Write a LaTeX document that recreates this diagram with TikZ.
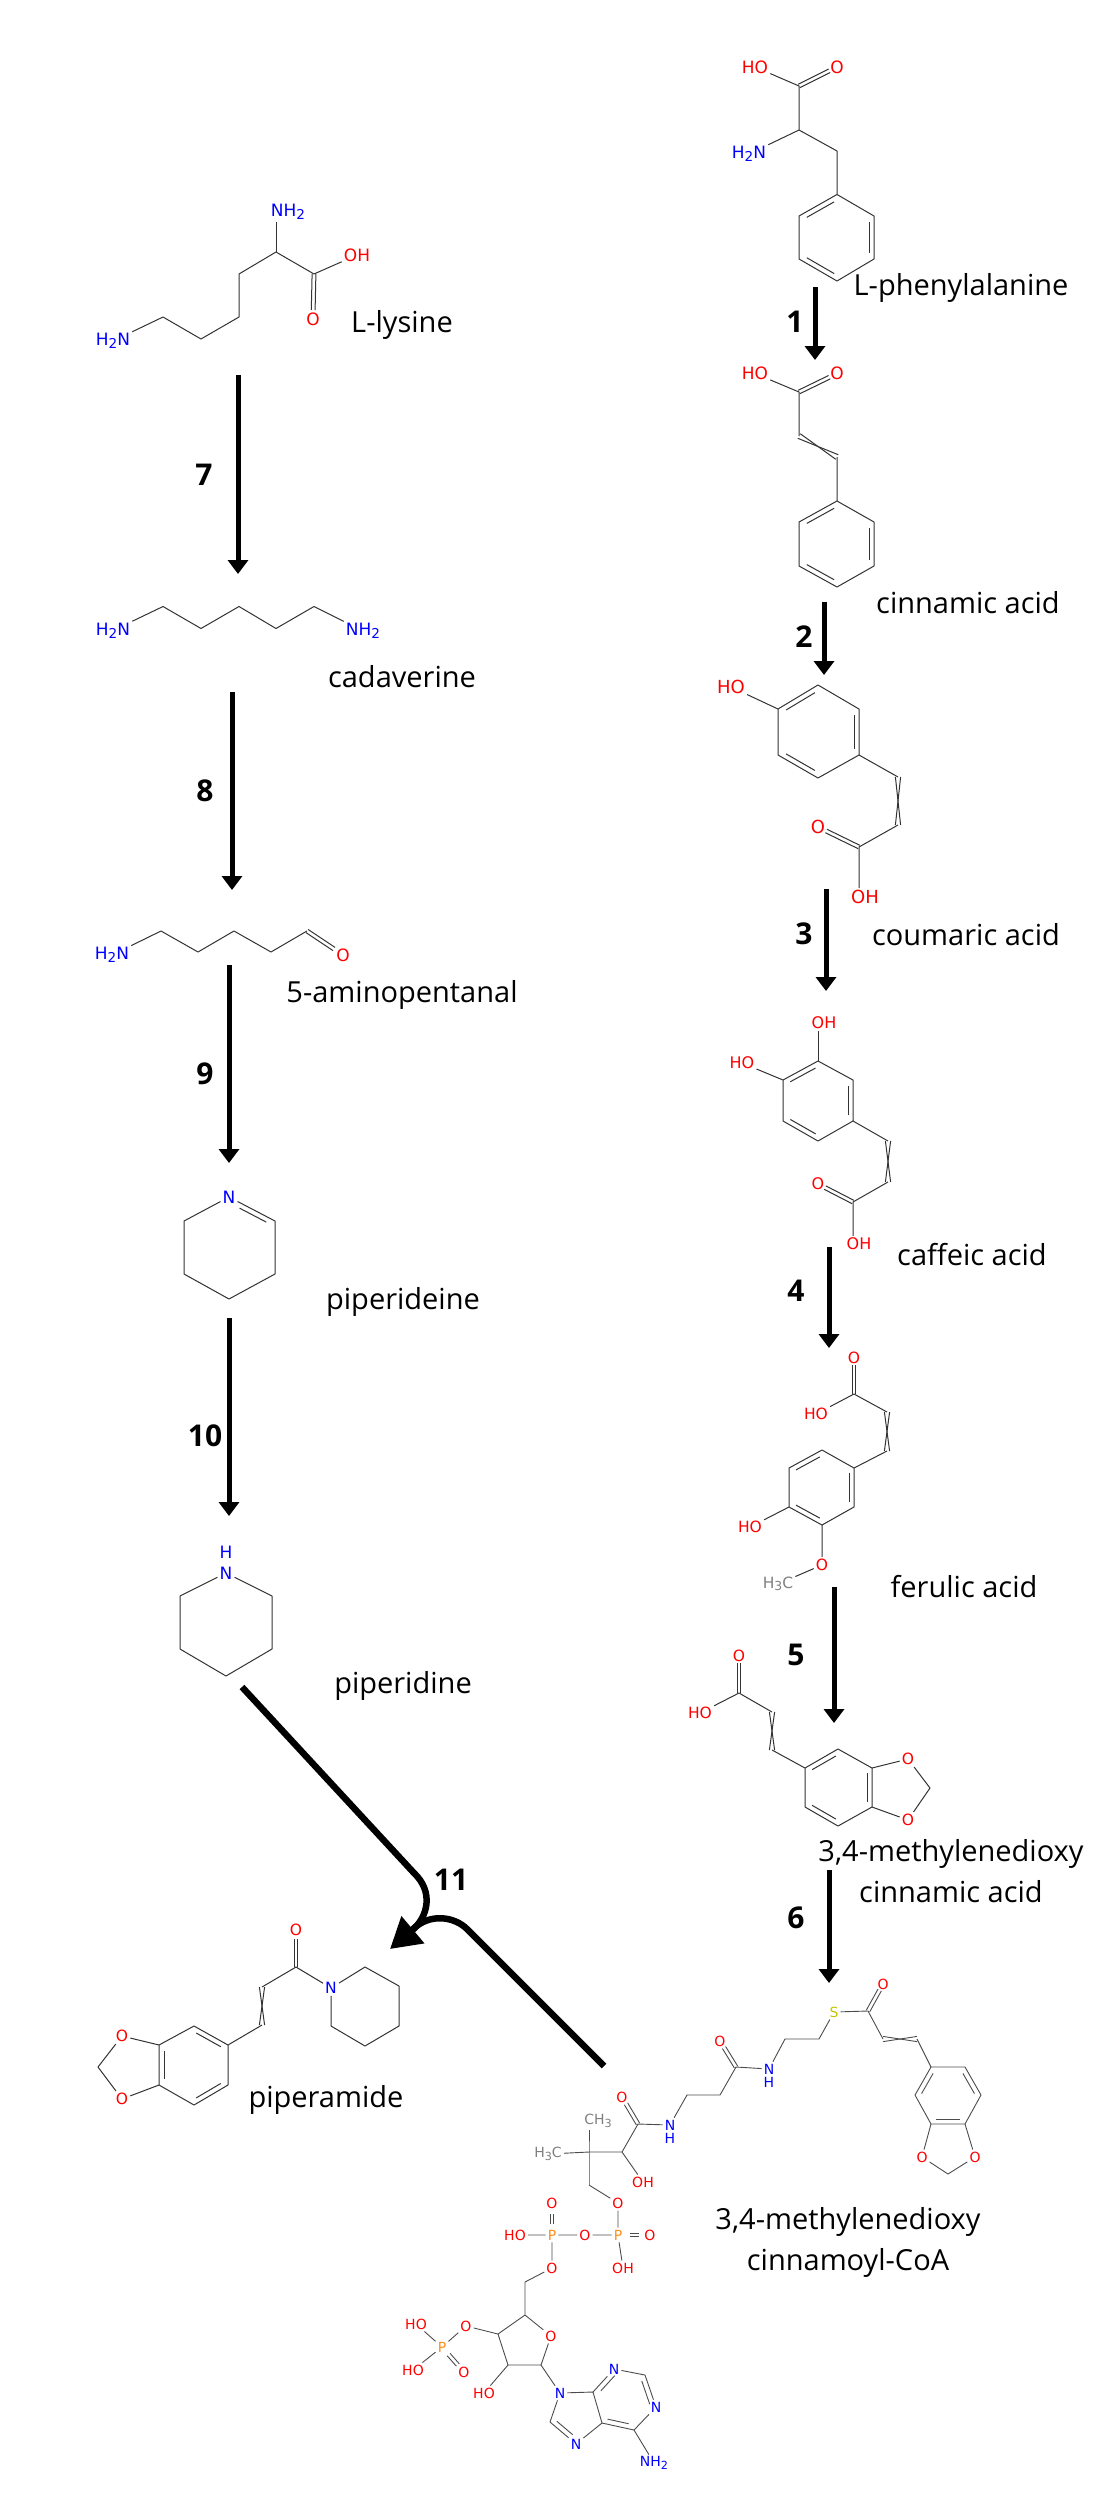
\documentclass[tikz,border=0pt]{standalone}
\usepackage{fontspec}
\setmainfont{Open Sans}
\newfontfamily\atomfont{DejaVu Sans}
\usetikzlibrary{arrows.meta, calc}
\definecolor{oxred}{HTML}{FF0000}
\definecolor{niblue}{HTML}{0000FF}
\definecolor{phorange}{HTML}{FF8C1A}
\definecolor{suyellow}{HTML}{C4C400}
\definecolor{megray}{HTML}{7F7F7F}
\def\atomsz{16}
\tikzset{%
	bond/.style={line width=1pt, draw=black!80, line join=round},
	atom/.style={inner sep=2pt, font=\atomfont\fontsize{\atomsz}{\atomsz}\selectfont},
	oxy/.style={atom, text=oxred},
	nit/.style={atom, text=niblue},
	pho/.style={atom, text=phorange},
	sul/.style={atom, text=suyellow},
	met/.style={atom, text=megray},
	mol/.style={inner sep=0pt, align=center, font=\fontsize{29}{41}\selectfont},
	num/.style={inner sep=0pt, font=\bfseries\fontsize{30}{30}\selectfont},
	rxn/.style={line width=5pt, -{Triangle[length=14pt,width=20pt]}},
	rxnbig/.style={line width=6.5pt}
}
\newcommand{\atomsub}[1]{\raisebox{-.3ex}{\scalebox{.8}{#1}}}
% inner line of a ring bond, on the left of a->b
\newcommand{\inbond}[3][.86]{\draw[bond] ($(#2.center)!.14!(#3.center)!5pt!90:(#3.center)$) -- ($(#2.center)!#1!(#3.center)!5pt!-90:(#2.center)$);}
% two lines round a->b, between two fractions
\newcommand{\dblbond}[4]{%
	\draw[bond] ($(#1.center)!#3!(#2.center)!1.9pt!90:(#2.center)$) -- ($(#1.center)!#4!(#2.center)!1.9pt!-90:(#1.center)$);
	\draw[bond] ($(#1.center)!#3!(#2.center)!1.9pt!-90:(#2.center)$) -- ($(#1.center)!#4!(#2.center)!1.9pt!90:(#1.center)$);}
% crossed double bond
\newcommand{\crsbond}[2]{%
	\draw[bond] ($(#1)!2.6pt!90:(#2)$) -- ($(#2)!2.6pt!90:(#1)$);
	\draw[bond] ($(#1)!2.6pt!-90:(#2)$) -- ($(#2)!2.6pt!-90:(#1)$);}
\newcommand{\setcoords}[1]{\foreach \n/\x/\y in {#1} {\coordinate (\n) at (\x,\y);}}
\begin{document}
\begin{tikzpicture}[x=1pt, y=-1pt]
	\useasboundingbox (0,0) rectangle (1100,2500);

	% L-phenylalanine
	\def\atomsz{17}
	\setcoords{phea/799/86, pheb/799/130, phec/837/151, ph1/837/194.5, ph2/874/216, ph3/874/259, ph4/837/281, ph5/799/259, ph6/799/216}
	\node[oxy] (pheho) at (755,67) {HO};
	\node[oxy] (pheo) at (837,67) {O};
	\node[nit] (phen) at (749,154) {H\atomsub{2}N};
	\draw[bond] (pheho) -- (phea) -- (pheb) -- (phec) -- (ph1) -- (ph2) -- (ph3) -- (ph4) -- (ph5) -- (ph6) -- (ph1);
	\draw[bond] (pheb) -- (phen);
	\dblbond{phea}{pheo}{0}{.8}
	\inbond{ph1}{ph6} \inbond{ph3}{ph2} \inbond{ph5}{ph4}
	\node[mol] (phename) at (961,288) {L-phenylalanine};

	% cinnamic acid
	\setcoords{cina/799/392, cinb/799/436, cinc/837/457, ci1/837/501, ci2/874/522, ci3/874/566, ci4/837/587, ci5/799/566, ci6/799/522}
	\node[oxy] (cinho) at (755,373.5) {HO};
	\node[oxy] (cino) at (837,373.5) {O};
	\draw[bond] (cinho) -- (cina) -- (cinb);
	\draw[bond] (cinc) -- (ci1) -- (ci2) -- (ci3) -- (ci4) -- (ci5) -- (ci6) -- (ci1);
	\dblbond{cina}{cino}{0}{.8}
	\crsbond{cinb}{cinc}
	\inbond{ci1}{ci6} \inbond{ci3}{ci2} \inbond{ci5}{ci4}
	\node[mol] (cinname) at (968,603) {cinnamic acid};

	% coumaric acid
	\def\atomsz{18}
	\setcoords{co1/818/685, co2/859/709, co3/859/755, co4/818/778, co5/778/755, co6/778/709, coua/898/777, coub/898/825, couc/859/847}
	\node[oxy] (couho) at (731,687) {HO};
	\node[oxy] (couo) at (818,827) {O};
	\node[oxy] (couoh) at (865,897) {OH};
	\draw[bond] (couho) -- (co6) -- (co1) -- (co2) -- (co3) -- (co4) -- (co5) -- (co6);
	\draw[bond] (co3) -- (coua);
	\draw[bond] (coub) -- (couc) -- (couc |- couoh.north);
	\crsbond{coua}{coub}
	\dblbond{couc}{couo}{0}{.8}
	\inbond{co1}{co6} \inbond{co3}{co2} \inbond{co5}{co4}
	\node[mol] (couname) at (966,935) {coumaric acid};

	% caffeic acid
	\def\atomsz{16}
	\setcoords{ca1/818/1061, ca2/853/1080, ca3/853/1121, ca4/818/1141, ca5/783/1121, ca6/783/1080, cafa/888/1141, cafb/888/1182, cafc/853/1202}
	\node[oxy] (cafoh) at (824,1022.5) {OH};
	\node[oxy] (cafho) at (742,1063) {HO};
	\node[oxy] (cafo) at (818,1184) {O};
	\node[oxy] (cafac) at (859,1244) {OH};
	\draw[bond] (cafho) -- (ca6) -- (ca1) -- (ca2) -- (ca3) -- (ca4) -- (ca5) -- (ca6);
	\draw[bond] (ca1) -- (ca1 |- cafoh.south);
	\draw[bond] (ca3) -- (cafa);
	\draw[bond] (cafb) -- (cafc) -- (cafc |- cafac.north);
	\crsbond{cafa}{cafb}
	\dblbond{cafc}{cafo}{0}{.8}
	\inbond{ca1}{ca6} \inbond{ca3}{ca2} \inbond{ca5}{ca4}
	\node[mol] (cafname) at (972,1255) {caffeic acid};

	% ferulic acid
	\def\atomsz{15.5}
	\setcoords{fera/854/1394, ferb/887/1412, ferc/887/1451, fe1/822/1450, fe2/854/1468, fe3/854/1507, fe4/822/1525, fe5/789/1507, fe6/789/1468}
	\node[oxy] (fero) at (854,1358) {O};
	\node[oxy] (ferac) at (816,1414) {HO};
	\node[oxy] (ferho) at (750,1527) {HO};
	\node[oxy] (ferme) at (822,1565) {O};
	\node[met] (ferch) at (778,1584) {H\atomsub{3}C};
	\draw[bond] (ferac) -- (fera) -- (ferb);
	\draw[bond] (ferc) -- (fe2) -- (fe3) -- (fe4) -- (fe5) -- (fe6) -- (fe1) -- (fe2);
	\draw[bond] (ferho) -- (fe5);
	\draw[bond] (fe4) -- (ferme) -- (ferch);
	\dblbond{fera}{fero}{0}{.8}
	\crsbond{ferb}{ferc}
	\inbond{fe1}{fe6} \inbond{fe3}{fe2} \inbond{fe5}{fe4}
	\node[mol] (fername) at (964,1587) {ferulic acid};

	% 3,4-methylenedioxy cinnamic acid
	\setcoords{mdaa/739/1693, mdab/772/1712, mdac/772/1750, md1/838/1749, md2/872/1768, md3/872/1807, md4/838/1826, md5/805/1807, md6/805/1768, mdch/930/1788}
	\node[oxy] (mdao) at (739,1656) {O};
	\node[oxy] (mdaho) at (700,1713) {HO};
	\node[oxy] (mdaou) at (908,1759) {O};
	\node[oxy] (mdaol) at (908,1820) {O};
	\draw[bond] (mdaho) -- (mdaa) -- (mdab);
	\draw[bond] (mdac) -- (md6) -- (md1) -- (md2) -- (md3) -- (md4) -- (md5) -- (md6);
	\draw[bond] (md2) -- (mdaou) -- (mdch) -- (mdaol) -- (md3);
	\dblbond{mdaa}{mdao}{0}{.8}
	\crsbond{mdab}{mdac}
	\inbond{md1}{md6} \inbond{md3}{md2} \inbond{md5}{md4}
	\node[mol] (mdaname) at (951,1871) {3,4-methylenedioxy\\cinnamic acid};

	% 3,4-methylenedioxy cinnamoyl-CoA
	\begin{scope}
		\def\atomsz{14}
		\tikzset{bond/.append style={line width=.9pt, draw=black!70}}
		\setcoords{cmc/868/2011, cmd/883/2039, cme/917/2039, cr1/931/2067, cr2/965/2067, cr3/981/2095, cr4/965/2124, cr5/931/2124, cr6/915/2095, crch/948/2174,
			cs1/819/2039, cs2/785/2039, cs3/736/2067, cs4/720/2095, cs5/687/2095, cs6/638/2124, cs7/622/2152, cs8/589/2152, cs9/589/2185,
			rb5/525/2282, rb4/525/2315, rb1/541/2365, rb2/508/2365, rb3/498/2334,
			ad8/550/2422, ad5/602/2423, ad4/593/2392, ad2/645/2375, ad6/634/2430}
		\node[oxy] (cmo) at (883,1984) {O};
		\node[sul] (cms) at (834,2012) {S};
		\node[oxy] (cro1) at (922,2157) {O};
		\node[oxy] (cro2) at (975,2157) {O};
		\node[nit] (csn1) at (769,2069) {N};
		\node[nit] (csh1) at (769,2082) {H};
		\node[oxy] (cso1) at (720,2041) {O};
		\node[nit] (csn2) at (670,2125) {N};
		\node[nit] (csh2) at (670,2138) {H};
		\node[oxy] (cso2) at (622,2097) {O};
		\node[oxy] (csoh) at (643,2182) {OH};
		\node[met] (cshc) at (548,2154) {H\atomsub{3}C};
		\node[met] (csch) at (598,2121) {CH\atomsub{3}};
		\node[oxy] (pao) at (618,2203) {O};
		\node[pho] (pap) at (618,2235) {P};
		\node[oxy] (pad) at (650,2235) {O};
		\node[oxy] (paoh) at (623,2268) {OH};
		\node[oxy] (pab) at (585,2235) {O};
		\node[pho] (pbp) at (552,2235) {P};
		\node[oxy] (pbd) at (552,2203) {O};
		\node[oxy] (pbho) at (515,2235) {HO};
		\node[oxy] (pbo) at (552,2268) {O};
		\node[oxy] (rbo) at (551,2336) {O};
		\node[oxy] (rbho) at (484,2393) {HO};
		\node[oxy] (pco) at (466,2326) {O};
		\node[pho] (pcp) at (442,2347) {P};
		\node[oxy] (pch1) at (416,2324) {HO};
		\node[oxy] (pch2) at (413,2370) {HO};
		\node[oxy] (pcd) at (464,2372) {O};
		\node[nit] (adn9) at (560,2393) {N};
		\node[nit] (adn7) at (576,2444) {N};
		\node[nit] (adn3) at (614,2369) {N};
		\node[nit] (adn1) at (656,2407) {N};
		\node[nit] (adnh) at (654,2463) {NH\atomsub{2}};

		\draw[bond] (cms) -- (cmc) -- (cmd);
		\draw[bond] (cme) -- (cr1) -- (cr2) -- (cr3) -- (cr4) -- (cr5) -- (cr6) -- (cr1);
		\draw[bond] (cr5) -- (cro1) -- (crch) -- (cro2) -- (cr4);
		\draw[bond] (cms) -- (cs1) -- (cs2) -- (csn1);
		\draw[bond] (csn1) -- (cs3) -- (cs4) -- (cs5) -- (csn2);
		\draw[bond] (csn2) -- (cs6) -- (cs7) -- (cs8) -- (cshc);
		\draw[bond] (cs7) -- (csoh);
		\draw[bond] (cs9) -- (cs8) -- (cs8 |- csch.south);
		\draw[bond] (cs9) -- (pao) -- (pap) -- (pab) -- (pbp) -- (pbho);
		\draw[bond] (pap) -- (paoh);
		\draw[bond] (pbp) -- (pbo) -- (rb5) -- (rb4) -- (rbo) -- (rb1) -- (rb2) -- (rb3) -- (rb4);
		\draw[bond] (rb2) -- (rbho);
		\draw[bond] (rb3) -- (pco) -- (pcp) -- (pch1);
		\draw[bond] (pcp) -- (pch2);
		\draw[bond] (rb1) -- (adn9) -- (ad8) -- (adn7) -- (ad5) -- (ad4) -- (adn9);
		\draw[bond] (ad4) -- (adn3) -- (ad2) -- (adn1) -- (ad6) -- (ad5);
		\draw[bond] (ad6) -- (adnh);
		\dblbond{cmc}{cmo}{0}{.78}
		\dblbond{cs3}{cso1}{0}{.75}
		\dblbond{cs6}{cso2}{0}{.75}
		\dblbond{pap}{pad}{.38}{.65}
		\dblbond{pbp}{pbd}{.35}{.65}
		\dblbond{pcp}{pcd}{.3}{.72}
		\crsbond{cmd}{cme}
		\inbond{cr1}{cr6} \inbond{cr5}{cr4} \inbond{cr3}{cr2}
		\inbond[.75]{ad8}{adn7} \inbond[.8]{adn3}{ad4} \inbond[.8]{ad5}{ad6} \inbond{adn1}{ad2}
	\end{scope}
	\node[mol] (coaname) at (848,2242.5) {3,4-methylenedioxy\\cinnamoyl-CoA};

	% L-lysine
	\def\atomsz{17}
	\setcoords{lysa/276/252, lysb/314/274, lysc/239/274, lysd/239/317, lyse/201/339, lysf/163/317}
	\node[nit] (lysnt) at (288,212) {NH\atomsub{2}};
	\node[oxy] (lysoh) at (357,255) {OH};
	\node[oxy] (lyso) at (313,319) {O};
	\node[nit] (lysn) at (113,341) {H\atomsub{2}N};
	\draw[bond] (lysn) -- (lysf) -- (lyse) -- (lysd) -- (lysc) -- (lysa) -- (lysb) -- (lysoh);
	\draw[bond] (lysa) -- (lysa |- lysnt.south);
	\dblbond{lysb}{lyso}{0}{.8}
	\node[mol] (lysname) at (402,325) {L-lysine};

	% cadaverine
	\setcoords{cada/163/606.5, cadb/201/628.5, cadc/239/606.5, cadd/276/628.5, cade/314/606.5}
	\node[nit] (cadn) at (113,630.5) {H\atomsub{2}N};
	\node[nit] (cadnt) at (363,631) {NH\atomsub{2}};
	\draw[bond] (cadn) -- (cada) -- (cadb) -- (cadc) -- (cadd) -- (cade) -- (cadnt);
	\node[mol] (cadname) at (402,677) {cadaverine};

	% 5-aminopentanal
	\setcoords{amia/161/931, amib/198/952, amic/234/931, amid/271/952, amie/307/931}
	\node[nit] (amin) at (112,955) {H\atomsub{2}N};
	\node[oxy] (amio) at (343,955) {O};
	\draw[bond] (amin) -- (amia) -- (amib) -- (amic) -- (amid) -- (amie);
	\dblbond{amie}{amio}{0}{.75}
	\node[mol] (aminame) at (402,995) {5-aminopentanal};

	% piperideine
	\setcoords{pde1/275/1221, pde2/275/1274, pde3/229/1299, pde4/184/1274, pde5/184/1221}
	\node[nit] (pden) at (229,1197) {N};
	\draw[bond] (pden) -- (pde1) -- (pde2) -- (pde3) -- (pde4) -- (pde5) -- (pden);
	\inbond[.72]{pde1}{pden}
	\node[mol] (pdename) at (403,1302) {piperideine};

	% piperidine
	\setcoords{pdi1/272/1596, pdi2/272/1649, pdi3/226/1676, pdi4/180/1649, pdi5/180/1596}
	\node[nit] (pdin) at (226,1573) {N};
	\node[nit] (pdih) at (226,1552) {H};
	\draw[bond] (pdin) -- (pdi1) -- (pdi2) -- (pdi3) -- (pdi4) -- (pdi5) -- (pdin);
	\node[mol] (pdiname) at (403,1686) {piperidine};

	% piperamide
	\def\atomsz{15.5}
	\setcoords{pipa/296/1967, pipb/262/1987, pipc/262/2025, pr1/365/1967, pr2/399/1986, pr3/399/2026, pr4/365/2046, pr5/331/2026,
		pb1/194/2026, pb2/228/2045, pb3/228/2085, pb4/194/2105, pb5/159/2085, pb6/159/2045, pipch/98/2067}
	\node[oxy] (pipo) at (296,1930) {O};
	\node[nit] (pipn) at (331,1988) {N};
	\node[oxy] (pipou) at (122,2036) {O};
	\node[oxy] (pipol) at (122,2099) {O};
	\draw[bond] (pipb) -- (pipa) -- (pipn) -- (pr1) -- (pr2) -- (pr3) -- (pr4) -- (pr5) -- (pipn);
	\draw[bond] (pipc) -- (pb2) -- (pb3) -- (pb4) -- (pb5) -- (pb6) -- (pb1) -- (pb2);
	\draw[bond] (pb6) -- (pipou) -- (pipch) -- (pipol) -- (pb5);
	\dblbond{pipa}{pipo}{0}{.75}
	\crsbond{pipb}{pipc}
	\inbond{pb2}{pb1} \inbond{pb4}{pb3} \inbond{pb6}{pb5}
	\node[mol] (pipname) at (326,2100) {piperamide};

	% reaction arrows
	\setcoords{s1/815/287, e1/815/360, s2/824/602, e2/824/675, s3/826/889, e3/826/991, s4/829/1247, e4/829/1348,
		s5/834/1587, e5/834/1723, s6/829/1870, e6/829/1983, s7/238/375, e7/238/574, s8/232/692, e8/232/890,
		s9/229/965, e9/229/1163, s10/229/1318, e10/229/1516}
	\foreach \i in {1,...,10} {\draw[rxn] (s\i) -- (e\i);}
	\node[num] (n1) at (795,322) {1};
	\node[num] (n2) at (804,637) {2};
	\node[num] (n3) at (804,934) {3};
	\node[num] (n4) at (796,1291) {4};
	\node[num] (n5) at (796,1655) {5};
	\node[num] (n6) at (796,1918) {6};
	\node[num] (n7) at (204,475) {7};
	\node[num] (n8) at (205,791) {8};
	\node[num] (n9) at (205,1074) {9};
	\node[num] (n10) at (205,1436) {10};
	\node[num] (n11) at (451,1880) {11};

	\setcoords{sa/242/1687, ka/414/1873, sb/604/2066, kb/467/1929, tip/390/1949, tipb/412/1930}
	\draw[rxnbig, -{Triangle[length=30pt,width=34pt]}] (sa) -- (ka) .. controls (434,1892) and (428,1917) .. (tip);
	\draw[rxnbig] (sb) -- (kb) .. controls (455,1917) and (430,1912) .. (tipb);
\end{tikzpicture}
\end{document}
